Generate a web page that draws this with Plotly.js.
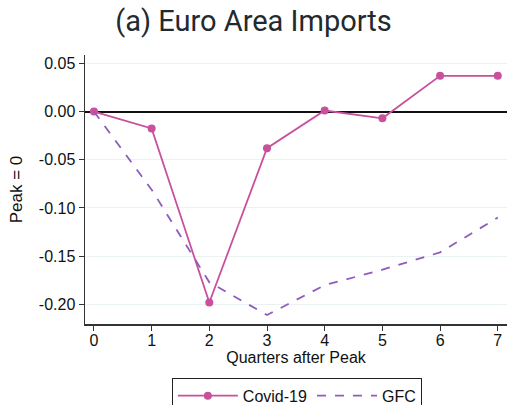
<!DOCTYPE html>
<html><head><meta charset="utf-8">
<script src="https://cdn.plot.ly/plotly-3.0.1.min.js"></script>
<style>html,body{margin:0;padding:0;background:#fff;}#chart{width:507px;height:405px;}</style>
</head><body><div id="chart"></div>
<script>
const quarters = [0, 1, 2, 3, 4, 5, 6, 7];
const covid = [0, -0.0175, -0.198, -0.038, 0.001, -0.007, 0.037, 0.037];
const gfc = [0, -0.081, -0.177, -0.211, -0.180, -0.164, -0.146, -0.110];
const yTicks = [0.05, 0, -0.05, -0.10, -0.15, -0.20];
const yTickText = ['0.05', '0.00', '-0.05', '-0.10', '-0.15', '-0.20'];

const tickFont = {family: 'Liberation Sans, Arial, sans-serif', size: 16, color: '#111'};
const data = [
  {x: quarters, y: covid, name: 'Covid-19', mode: 'lines+markers', type: 'scatter',
   line: {color: '#c8509c', width: 1.8}, marker: {color: '#c8509c', size: 8}},
  {x: quarters, y: gfc, name: 'GFC', mode: 'lines', type: 'scatter',
   line: {color: '#8e5bbf', width: 1.8, dash: 'dash'}}
];
const layout = {
  width: 507, height: 405,
  margin: {l: 85, r: 0, t: 55, b: 81, autoexpand: false},
  paper_bgcolor: '#fff', plot_bgcolor: '#fff',
  title: {text: '(a) Euro Area Imports', x: 0.5, xanchor: 'center', y: 0.948, yanchor: 'middle',
          font: {family: 'Roboto, sans-serif', size: 29, color: '#222a30'}},
  xaxis: {range: [-0.155, 7.16], tickvals: quarters, ticks: 'outside', ticklen: 5, tickcolor: '#333',
          showgrid: false, zeroline: false, showline: true, linecolor: '#333', linewidth: 1.5,
          tickfont: tickFont, automargin: false, ticklabelstandoff: -4,
          title: {text: 'Quarters after Peak', font: {family: 'Liberation Sans, Arial, sans-serif', size: 16, color: '#111'}, standoff: 0}},
  yaxis: {range: [-0.2203, 0.0586], tickvals: yTicks, ticktext: yTickText, ticks: 'outside', ticklen: 5, tickcolor: '#333',
          showgrid: true, gridcolor: '#eaf2f2', gridwidth: 1,
          zeroline: true, zerolinecolor: '#111', zerolinewidth: 2,
          showline: true, linecolor: '#333', linewidth: 1.5,
          tickfont: tickFont, automargin: false,
          title: {text: 'Peak = 0', font: {family: 'Liberation Sans, Arial, sans-serif', size: 17, color: '#111'}, standoff: 12}},
  showlegend: true,
  legend: {orientation: 'h', x: 0.502, xanchor: 'center', y: -0.2, yanchor: 'top',
           bordercolor: '#222', borderwidth: 1, bgcolor: '#fff',
           font: {family: 'Liberation Sans, Arial, sans-serif', size: 16, color: '#111'},
           itemwidth: 60}
};
Plotly.newPlot('chart', data, layout, {displayModeBar: false, staticPlot: true});
</script></body></html>
